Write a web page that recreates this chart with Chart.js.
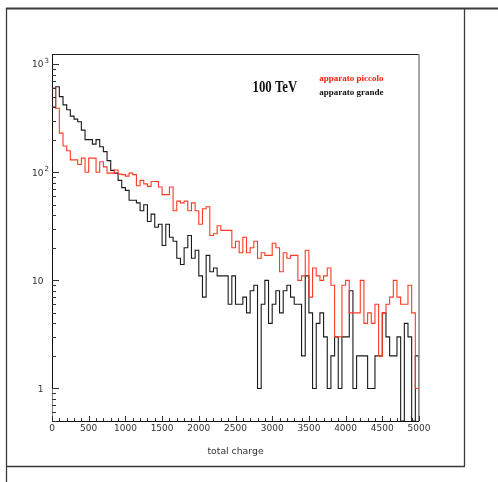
<!DOCTYPE html>
<html>
<head>
<meta charset="utf-8">
<script src="https://cdn.jsdelivr.net/npm/chart.js@4.4.1/dist/chart.umd.min.js"></script>
<style>
  html, body { margin: 0; padding: 0; background: #fff; }
  canvas { display: block; }
</style>
</head>
<body>
<canvas id="charge-chart" width="498" height="482"></canvas>
<script>
// histogram: 100 bins of 50 from 0 to 5000
const binWidth = 50;
const xTickLabels = ['0', '500', '1000', '1500', '2000', '2500', '3000', '3500', '4000', '4500', '5000'];
const yTickValues = [1, 10, 100, 1000];
const yTickLabels = ['1', '10', '10', '10'];
const yTickExponents = ['', '', '2', '3'];

const piccolo = [
  600, 390, 230, 175, 158, 130, 130, 118, 135, 100,
  135, 135, 100, 125, 112, 98, 98, 105, 96, 95,
  92, 98, 95, 75, 84, 78, 74, 82, 82, 73,
  62, 62, 73, 44, 54, 52, 54, 44, 52, 44,
  33, 46, 48, 26, 27, 32, 29, 29, 29, 20,
  23, 18, 25, 18, 20, 23, 16, 18, 17, 17,
  22, 20, 12, 18, 16, 17, 17, 10, 11, 19,
  7, 13, 11, 10, 11, 13, 9, 3, 3, 9,
  10, 5, 5, 5, 10, 4, 5, 4, 6, 2,
  5, 6, 7, 10, 7, 6, 6, 9, 5, 1
];

const grande = [
  400, 618, 500, 420, 378, 330, 310, 293, 245, 200,
  200, 182, 200, 172, 155, 128, 104, 98, 84, 72,
  68, 55, 55, 52, 44, 50, 35, 41, 31, 33,
  21, 33, 25, 23, 16, 14, 20, 26, 16, 19,
  11, 7, 17, 12, 13, 11, 11, 11, 6, 11,
  6, 6, 7, 5, 8, 9, 1, 6, 10, 4,
  6, 8, 5, 8, 9, 7, 6, 6, 2, 11,
  5, 1, 4, 5, 3, 1, 2, 3, 1, 3,
  3, 8, 1, 2, 2, 2, 1, 1, 2, 2,
  5, 3, 2, 2, 3, 0, 4, 3, 0, 2
];

const yMin = 0.5;
const yMax = 1240;
const redColor = 'rgb(255, 58, 36)';

// outline points of a histogram, each count drawn as a step from the left bin edge
function histPoints(counts, startY, endY) {
  const pts = [{ x: 0, y: startY }];
  counts.forEach((c, i) => pts.push({ x: i * binWidth, y: c > 0 ? c : yMin }));
  pts.push({ x: counts.length * binWidth, y: endY });
  return pts;
}

const rootFrame = {
  id: 'rootFrame',
  beforeDraw(chart) {
    const ctx = chart.ctx;
    ctx.save();
    ctx.fillStyle = '#fff';
    ctx.fillRect(0, 0, chart.width, chart.height);
    ctx.strokeStyle = '#3a3a3a';
    ctx.lineWidth = 2;
    ctx.beginPath();
    ctx.moveTo(6, 8.5); ctx.lineTo(chart.width, 8.5);
    ctx.stroke();
    ctx.lineWidth = 1.3;
    ctx.beginPath();
    ctx.moveTo(6.5, 8); ctx.lineTo(6.5, chart.height);
    ctx.moveTo(464.5, 9); ctx.lineTo(464.5, 466.5);
    ctx.moveTo(6, 466.5); ctx.lineTo(465, 466.5);
    ctx.stroke();
    ctx.restore();
  },
  afterDatasetsDraw(chart) {
    const { ctx, chartArea: a, scales: { x, y } } = chart;
    ctx.save();
    // plot box
    ctx.lineWidth = 1;
    ctx.strokeStyle = '#222';
    ctx.beginPath();
    ctx.moveTo(a.left, a.top + 0.5); ctx.lineTo(a.right, a.top + 0.5);
    ctx.stroke();
    ctx.strokeStyle = '#8a8a8a';
    ctx.lineWidth = 1.5;
    ctx.beginPath();
    ctx.moveTo(a.right, a.top); ctx.lineTo(a.right, a.bottom);
    ctx.stroke();
    ctx.strokeStyle = '#111';
    ctx.lineWidth = 1;
    ctx.beginPath();
    ctx.moveTo(a.left + 0.5, a.top); ctx.lineTo(a.left + 0.5, y.getPixelForValue(1));
    ctx.moveTo(a.left, a.bottom + 0.5); ctx.lineTo(a.right, a.bottom + 0.5);
    ctx.stroke();

    // x ticks, pointing into the plot
    ctx.strokeStyle = '#333';
    ctx.beginPath();
    for (let v = 0; v <= 5000; v += 100) {
      const px = Math.round(x.getPixelForValue(v)) + 0.5;
      const len = v % 500 === 0 ? 5 : 3;
      ctx.moveTo(px, a.bottom);
      ctx.lineTo(px, a.bottom - len);
    }
    // y ticks: decades long, the rest short
    for (let d = 0.1; d < yMax; d *= 10) {
      for (let m = 1; m < 10; m++) {
        const v = d * m;
        if (v < yMin || v > yMax) continue;
        const py = Math.round(y.getPixelForValue(v)) + 0.5;
        const len = m === 1 ? 7 : 4;
        ctx.moveTo(a.left, py);
        ctx.lineTo(a.left + len, py);
      }
    }
    ctx.stroke();

    // tick labels
    ctx.fillStyle = '#333';
    ctx.font = '9px "DejaVu Sans"';
    ctx.textAlign = 'center';
    ctx.textBaseline = 'middle';
    xTickLabels.forEach(lbl => {
      ctx.fillText(lbl, x.getPixelForValue(Number(lbl)), a.bottom + 8);
    });
    yTickValues.forEach((v, i) => {
      const py = y.getPixelForValue(v) + 1;
      ctx.font = '9px "DejaVu Sans"';
      ctx.textAlign = 'right';
      ctx.fillText(yTickLabels[i], a.left - 8.5, py);
      if (yTickExponents[i]) {
        ctx.font = '7px "DejaVu Sans"';
        ctx.textAlign = 'left';
        ctx.fillText(yTickExponents[i], a.left - 7.5, py - 4);
      }
    });

    // axis title
    ctx.font = '9.3px "DejaVu Sans"';
    ctx.textAlign = 'center';
    ctx.fillText('total charge', (a.left + a.right) / 2, a.bottom + 31);

    // annotations
    ctx.textAlign = 'left';
    ctx.textBaseline = 'alphabetic';
    ctx.fillStyle = '#111';
    ctx.save();
    ctx.translate(252.5, 91.5);
    ctx.scale(1, 1.25);
    ctx.font = 'bold 12.8px "Liberation Serif"';
    ctx.fillText('100 TeV', 0, 0);
    ctx.restore();
    ctx.font = 'bold 9px "Liberation Serif"';
    ctx.fillStyle = 'rgb(255, 30, 10)';
    ctx.fillText('apparato piccolo', 319.3, 80.5);
    ctx.fillStyle = '#111';
    ctx.fillText('apparato grande', 319.3, 95.3);
    ctx.restore();
  }
};

new Chart(document.getElementById('charge-chart').getContext('2d'), {
  type: 'line',
  data: {
    datasets: [
      {
        label: 'apparato piccolo',
        data: histPoints(piccolo, 1, 1),
        borderColor: redColor,
        borderWidth: 1.1,
        stepped: true,
        pointRadius: 0,
        fill: false,
      },
      {
        label: 'apparato grande',
        data: histPoints(grande, yMin, yMin),
        borderColor: '#1a1a1a',
        borderWidth: 1.1,
        stepped: true,
        pointRadius: 0,
        fill: false,
      },
    ],
  },
  options: {
    responsive: false,
    devicePixelRatio: 1,
    animation: false,
    layout: { padding: { left: 52, top: 54, right: 79, bottom: 61 } },
    plugins: { legend: { display: false }, tooltip: { enabled: false } },
    scales: {
      x: { type: 'linear', min: 0, max: 5000, display: false },
      y: { type: 'logarithmic', min: yMin, max: yMax, display: false },
    },
  },
  plugins: [rootFrame],
});
</script>
</body>
</html>
